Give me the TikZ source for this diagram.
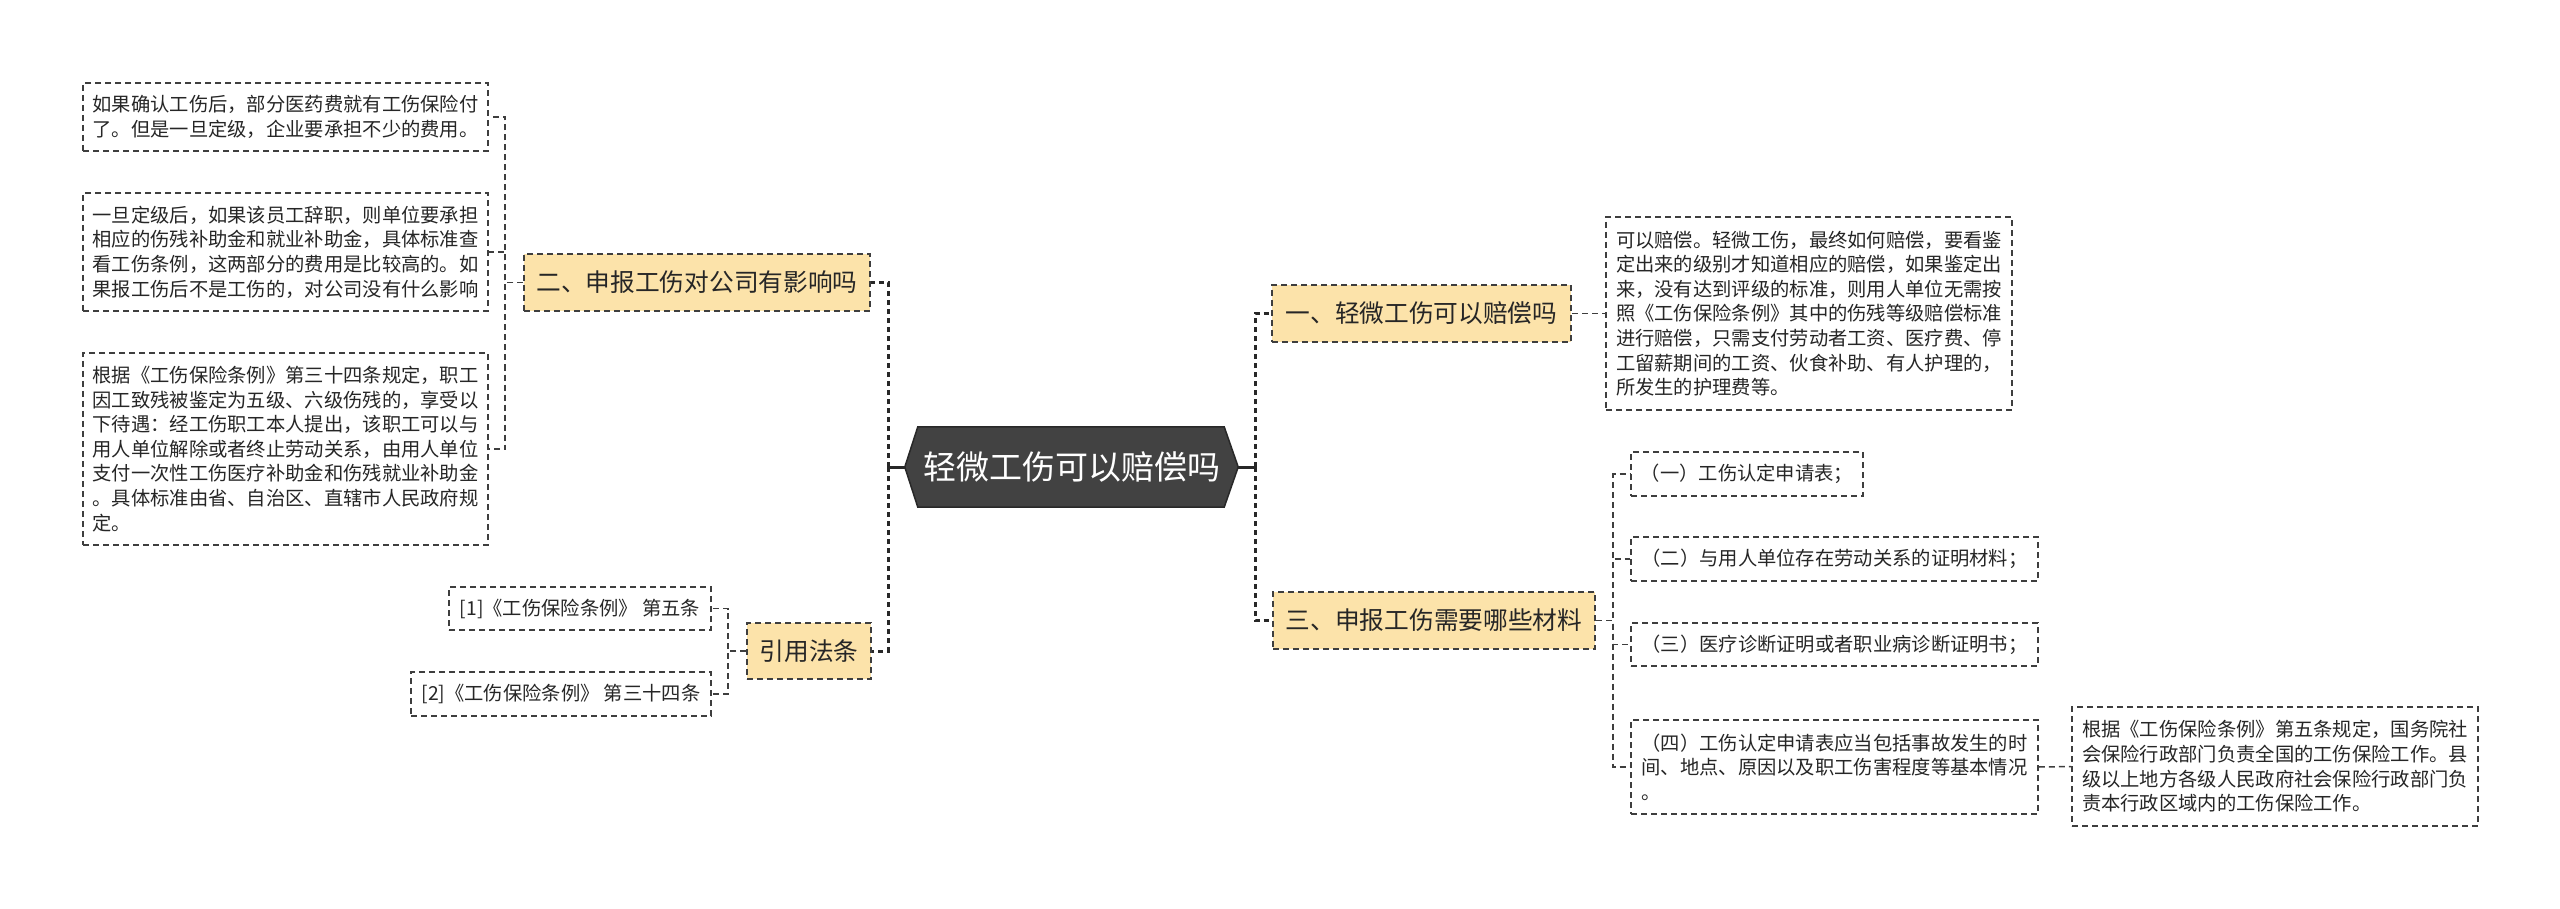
\documentclass[tikz,border=0pt]{standalone}
\usepackage{fontspec}
\setmainfont{Noto Sans CJK SC}
\usetikzlibrary{backgrounds}
\definecolor{branchfill}{RGB}{252,227,170}
\definecolor{linec}{RGB}{62,62,62}
\definecolor{centerfill}{RGB}{66,66,66}
\definecolor{centerline}{RGB}{40,40,40}
\definecolor{textc}{RGB}{38,38,38}
\begin{document}
\begin{tikzpicture}[x=1pt,y=-1pt,
  leafbox/.style={draw=linec, line width=1.5pt, dash pattern=on 6pt off 4pt, fill=white,
    align=left, text=textc, inner sep=0pt, font=\fontsize{19.3pt}{24.6pt}\selectfont},
  branchbox/.style={draw=linec, line width=2pt, dash pattern=on 6pt off 4pt, fill=branchfill,
    align=center, text=textc, inner sep=0pt, minimum height=57pt, font=\fontsize{24.7pt}{30pt}\selectfont},
  mainsolid/.style={draw=centerline, line width=3pt},
  maindash/.style={draw=centerline, line width=3pt, dash pattern=on 5pt off 4pt},
  leafline/.style={draw=linec, line width=1.5pt, dash pattern=on 6pt off 4pt},
]
\useasboundingbox (0,0) rectangle (2560,909);

% central node
\node[inner sep=0pt, minimum width=333pt, minimum height=80pt, text=white,
  font=\fontsize{33pt}{40pt}\selectfont] (c) at (1071.5,467) {轻微工伤可以赔偿吗};
\begin{scope}[on background layer]
\filldraw[fill=centerfill, draw=centerline, line width=1.5pt]
  (c.west) -- ([xshift=13pt]c.north west) -- ([xshift=-14pt]c.north east) -- (c.east)
  -- ([xshift=-14pt]c.south east) -- ([xshift=13pt]c.south west) -- cycle;
\end{scope}

% spine coordinates
\coordinate (lsp) at (888,467);
\coordinate (rsp) at (1255,467);
\coordinate (sp2) at (505,282);
\coordinate (sp4) at (728,651);
\coordinate (sp3) at (1613,620);

% left branches
\node[branchbox, minimum width=346pt] (b2) at (697,282.5) {二、申报工伤对公司有影响吗};
\node[branchbox, minimum width=124pt, minimum height=56pt] (b4) at (809,651) {引用法条};

\node[leafbox, minimum width=405pt, minimum height=68pt] (l1) at (285.5,117)
  {如果确认工伤后，部分医药费就有工伤保险付\\了。但是一旦定级，企业要承担不少的费用。};
\node[leafbox, minimum width=405pt, minimum height=118pt] (l2) at (285.5,252)
  {一旦定级后，如果该员工辞职，则单位要承担\\相应的伤残补助金和就业补助金，具体标准查\\看工伤条例，这两部分的费用是比较高的。如\\果报工伤后不是工伤的，对公司没有什么影响};
\node[leafbox, minimum width=405pt, minimum height=192pt] (l3) at (285.5,449)
  {根据《工伤保险条例》第三十四条规定，职工\\因工致残被鉴定为五级、六级伤残的，享受以\\下待遇：经工伤职工本人提出，该职工可以与\\用人单位解除或者终止劳动关系，由用人单位\\支付一次性工伤医疗补助金和伤残就业补助金\\。具体标准由省、自治区、直辖市人民政府规\\定。};

\node[leafbox, minimum width=262pt, minimum height=43pt] (r1) at (580,608.5)
  {[1]《工伤保险条例》 第五条};
\node[leafbox, minimum width=300pt, minimum height=44pt] (r2) at (561,694)
  {[2]《工伤保险条例》 第三十四条};

% right branches
\node[branchbox, minimum width=299pt] (b1) at (1421.5,313.5) {一、轻微工伤可以赔偿吗};
\node[branchbox, minimum width=322pt] (b3) at (1434,620.5) {三、申报工伤需要哪些材料};

\node[leafbox, minimum width=406pt, minimum height=193pt] (a1) at (1809,313.5)
  {可以赔偿。轻微工伤，最终如何赔偿，要看鉴\\定出来的级别才知道相应的赔偿，如果鉴定出\\来，没有达到评级的标准，则用人单位无需按\\照《工伤保险条例》其中的伤残等级赔偿标准\\进行赔偿，只需支付劳动者工资、医疗费、停\\工留薪期间的工资、伙食补助、有人护理的，\\所发生的护理费等。};

\node[leafbox, minimum width=232pt, minimum height=44pt] (s1) at (1747,474)
  {（一）工伤认定申请表；};
\node[leafbox, minimum width=407pt, minimum height=44pt] (s2) at (1834.5,559)
  {（二）与用人单位存在劳动关系的证明材料；};
\node[leafbox, minimum width=407pt, minimum height=43pt] (s3) at (1834.5,644.5)
  {（三）医疗诊断证明或者职业病诊断证明书；};
\node[leafbox, minimum width=407pt, minimum height=94pt] (s4) at (1834.5,767)
  {（四）工伤认定申请表应当包括事故发生的时\\间、地点、原因以及职工伤害程度等基本情况\\。};
\node[leafbox, minimum width=406pt, minimum height=119pt] (s5) at (2275,766.5)
  {根据《工伤保险条例》第五条规定，国务院社\\会保险行政部门负责全国的工伤保险工作。县\\级以上地方各级人民政府社会保险行政部门负\\责本行政区域内的工伤保险工作。};

% main connectors
\draw[mainsolid] (c.west) -- (lsp);
\draw[mainsolid] (c.east) -- (rsp);
\draw[maindash] (lsp) |- (b2.east);
\draw[maindash] (lsp) |- (b4.east);
\draw[maindash] (rsp) |- (b1.west);
\draw[maindash] (rsp) |- (b3.west);

% leaf connectors
\draw[leafline] (b2.west) -- (b2.west -| sp2) |- (l1.east);
\draw[leafline] (b2.west) -- (b2.west -| sp2) |- (l2.east);
\draw[leafline] (b2.west) -- (b2.west -| sp2) |- (l3.east);
\draw[leafline] (b4.west) -- (b4.west -| sp4) |- (r1.east);
\draw[leafline] (b4.west) -- (b4.west -| sp4) |- (r2.east);
\draw[leafline] (b1.east) -- (a1.west);
\draw[leafline] (b3.east) -- (b3.east -| sp3) |- (s1.west);
\draw[leafline] (b3.east) -- (b3.east -| sp3) |- (s2.west);
\draw[leafline] (b3.east) -- (b3.east -| sp3) |- (s3.west);
\draw[leafline] (b3.east) -- (b3.east -| sp3) |- (s4.west);
\draw[leafline] (s4.east) -- (s5.west);
\end{tikzpicture}
\end{document}
